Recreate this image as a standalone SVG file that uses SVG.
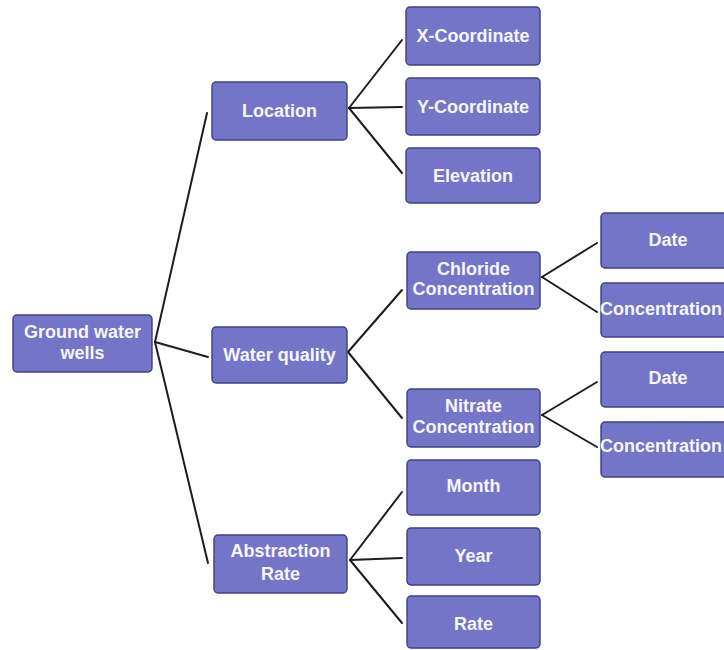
<svg xmlns="http://www.w3.org/2000/svg" width="724" height="650" viewBox="0 0 724 650">
<defs>
<style>
.box{fill:#7474c8;stroke:#3f3f80;stroke-width:1.4}
.t{font-family:"Liberation Sans",Arial,sans-serif;font-weight:bold;font-size:18px;fill:#f6f6fb;text-anchor:middle}
.ts{font-family:"Liberation Sans",Arial,sans-serif;font-weight:bold;font-size:18px;fill:#f6f6fb;text-anchor:start}
.c{stroke:#1c1c24;stroke-width:2;fill:none;stroke-linecap:round}
</style>
</defs>
<rect width="724" height="650" fill="#ffffff"/>
<g id="connectors">
<line class="c" x1="155" y1="342" x2="207" y2="113"/>
<line class="c" x1="155" y1="342" x2="208" y2="357"/>
<line class="c" x1="155" y1="342" x2="208" y2="563"/>
<line class="c" x1="349" y1="108" x2="402" y2="40"/>
<line class="c" x1="349" y1="108" x2="402" y2="107"/>
<line class="c" x1="349" y1="108" x2="402" y2="173"/>
<line class="c" x1="348" y1="352" x2="402" y2="290"/>
<line class="c" x1="348" y1="352" x2="402" y2="418"/>
<line class="c" x1="542" y1="277" x2="597" y2="243"/>
<line class="c" x1="542" y1="277" x2="597" y2="312"/>
<line class="c" x1="542" y1="415" x2="597" y2="382"/>
<line class="c" x1="542" y1="415" x2="597" y2="447"/>
<line class="c" x1="350" y1="560" x2="402" y2="492"/>
<line class="c" x1="350" y1="560" x2="402" y2="558"/>
<line class="c" x1="350" y1="560" x2="402" y2="623"/>
</g>
<g id="ground-water-wells"><rect class="box" x="13" y="315" width="139" height="57" rx="4"/><text class="t" x="82.5" y="338">Ground water</text><text class="t" x="82.5" y="359">wells</text></g>
<g id="location"><rect class="box" x="212" y="82" width="135" height="58" rx="4"/><text class="t" x="279.5" y="117">Location</text></g>
<g id="water-quality"><rect class="box" x="212" y="327" width="135" height="56" rx="4"/><text class="t" x="279.5" y="361">Water quality</text></g>
<g id="abstraction-rate"><rect class="box" x="214" y="535" width="133" height="58" rx="4"/><text class="t" x="280.5" y="557">Abstraction</text><text class="t" x="280.5" y="580">Rate</text></g>
<g id="x-coordinate"><rect class="box" x="406" y="7" width="134" height="58" rx="4"/><text class="t" x="473" y="42">X-Coordinate</text></g>
<g id="y-coordinate"><rect class="box" x="406" y="78" width="134" height="57" rx="4"/><text class="t" x="473" y="113">Y-Coordinate</text></g>
<g id="elevation"><rect class="box" x="406" y="148" width="134" height="55" rx="4"/><text class="t" x="473" y="182">Elevation</text></g>
<g id="chloride"><rect class="box" x="407" y="252" width="133" height="57" rx="4"/><text class="t" x="473.5" y="275">Chloride</text><text class="t" x="473.5" y="295">Concentration</text></g>
<g id="nitrate"><rect class="box" x="407" y="389" width="133" height="58" rx="4"/><text class="t" x="473.5" y="412">Nitrate</text><text class="t" x="473.5" y="433">Concentration</text></g>
<g id="chloride-date"><rect class="box" x="601" y="213" width="134" height="55" rx="4"/><text class="t" x="668" y="246">Date</text></g>
<g id="chloride-concentration"><rect class="box" x="601" y="283" width="134" height="54" rx="4"/><text class="ts" x="600" y="315">Concentration</text></g>
<g id="nitrate-date"><rect class="box" x="601" y="352" width="134" height="55" rx="4"/><text class="t" x="668" y="384">Date</text></g>
<g id="nitrate-concentration"><rect class="box" x="601" y="422" width="134" height="55" rx="4"/><text class="ts" x="600" y="452">Concentration</text></g>
<g id="month"><rect class="box" x="407" y="460" width="133" height="55" rx="4"/><text class="t" x="473.5" y="492">Month</text></g>
<g id="year"><rect class="box" x="407" y="528" width="133" height="57" rx="4"/><text class="t" x="473.5" y="562">Year</text></g>
<g id="rate"><rect class="box" x="407" y="596" width="133" height="52" rx="4"/><text class="t" x="473.5" y="630">Rate</text></g>
</svg>
